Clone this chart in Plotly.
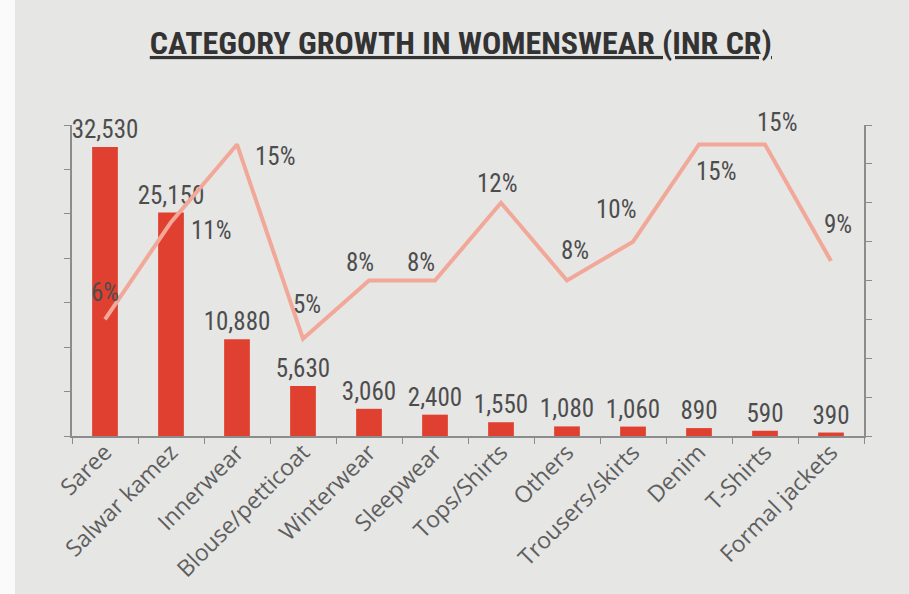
import plotly.graph_objects as go

categories = ["Saree", "Salwar kamez", "Innerwear", "Blouse/petticoat", "Winterwear",
              "Sleepwear", "Tops/Shirts", "Others", "Trousers/skirts", "Denim",
              "T-Shirts", "Formal jackets"]
market_size = [32530, 25150, 10880, 5630, 3060, 2400, 1550, 1080, 1060, 890, 590, 390]
growth_pct = [6, 11, 15, 5, 8, 8, 12, 8, 10, 15, 15, 9]

# label offsets (pixels) for growth labels: (xshift, yshift)
pct_offsets = [(0, 27), (40, -8), (38, -12), (4, 34), (-9, 18), (-14, 18),
               (-4, 19), (8, 30), (-17, 32), (17, -27), (12, 22), (7, 37)]

BG = "#e6e6e5"
AX = "#8c8c8c"
NUM_FONT = "Roboto Condensed, Liberation Sans Narrow, sans-serif"

fig = go.Figure()
fig.add_trace(go.Bar(
    x=categories, y=market_size,
    marker=dict(color="#e0402f", line=dict(width=0)),
    text=[f"{v:,}" for v in market_size],
    textposition="outside",
    constraintext="none",
    textfont=dict(family=NUM_FONT, size=25, color="#4d4d4d"),
    cliponaxis=False,
    width=0.39,
    yaxis="y",
))
fig.add_trace(go.Scatter(
    x=categories, y=growth_pct,
    mode="lines",
    line=dict(color="#f2a898", width=4),
    yaxis="y2",
))

for c, v, (dx, dy) in zip(categories, growth_pct, pct_offsets):
    fig.add_annotation(
        x=c, y=v, yref="y2", text=f"{v}%", showarrow=False,
        xshift=dx, yshift=dy,
        font=dict(family=NUM_FONT, size=25, color="#4d4d4d"),
    )

fig.update_layout(
    width=909, height=594,
    paper_bgcolor=BG, plot_bgcolor=BG,
    margin=dict(l=72, r=45, t=125, b=158),
    showlegend=False,
    uniformtext=dict(mode=False),
    title=dict(
        text="<b><u>CATEGORY GROWTH IN WOMENSWEAR (INR CR)</u></b>",
        x=0.507, xanchor="center", y=0.928, yanchor="middle",
        font=dict(family=NUM_FONT, size=32, color="#333333"),
        automargin=False,
    ),
    xaxis=dict(
        showline=True, linecolor=AX, linewidth=1.5,
        ticks="outside", tickson="boundaries", ticklen=6, tickcolor=AX,
        tickangle=-45, ticklabelstandoff=-8, automargin=False,
        tickfont=dict(family="Open Sans, sans-serif", size=23, color="#5e5e5e"),
        showgrid=False, zeroline=False,
    ),
    yaxis=dict(
        range=[0, 35000], dtick=5000, showticklabels=False,
        showline=True, linecolor=AX, linewidth=1.5,
        ticks="outside", ticklen=6, tickcolor=AX, automargin=False,
        showgrid=False, zeroline=False,
    ),
    yaxis2=dict(
        range=[0, 16], dtick=2, showticklabels=False, overlaying="y", side="right",
        showline=True, linecolor=AX, linewidth=1.5,
        ticks="outside", ticklen=6, tickcolor=AX, automargin=False,
        showgrid=False, zeroline=False,
    ),
    shapes=[dict(type="rect", xref="paper", yref="paper", x0=-0.0909, x1=-0.072,
                 y0=-1, y1=2, fillcolor="#fafafa", line=dict(width=0), layer="below")],
)

fig.write_html("out.html", config={"displayModeBar": False},
               post_script="document.body.style.margin='0';")
